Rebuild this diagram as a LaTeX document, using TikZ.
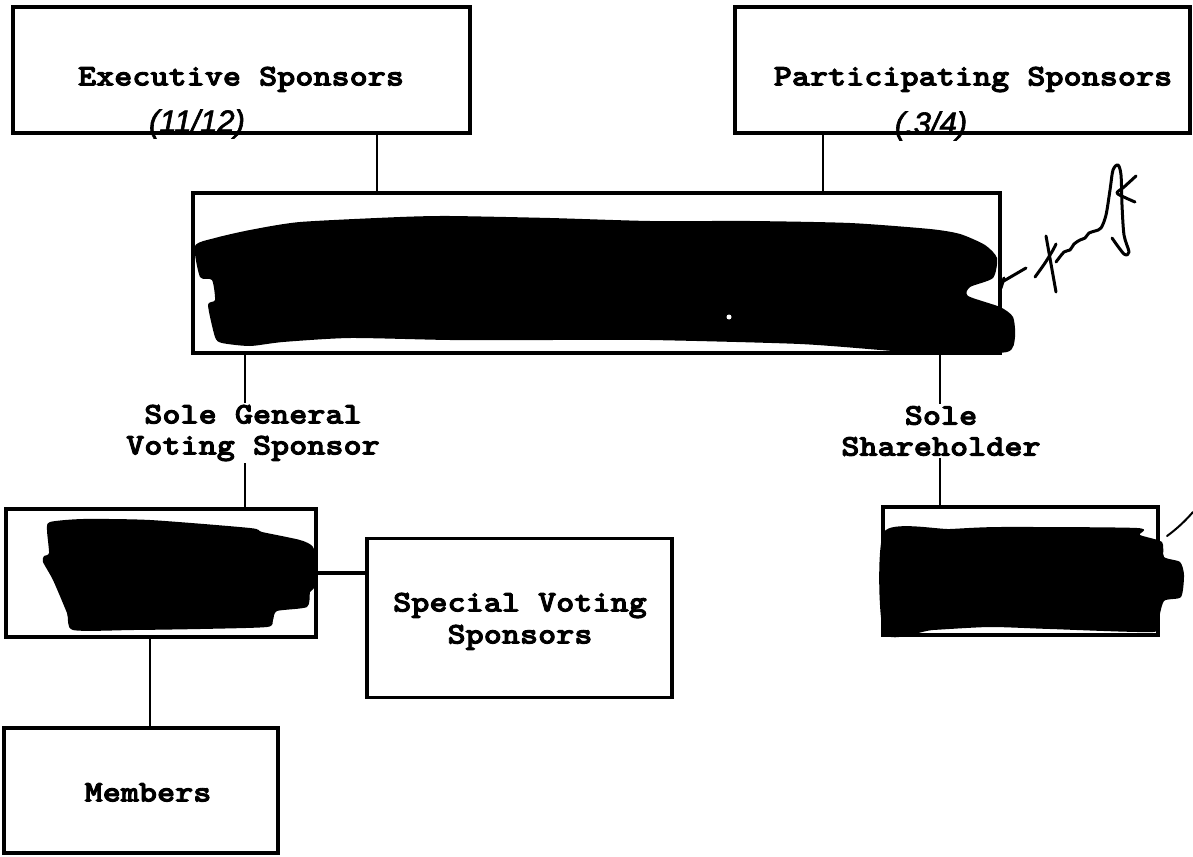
\documentclass[tikz,border=0pt]{standalone}
\usepackage{fontspec}
\newfontfamily\cour[FakeStretch=1.15,FakeBold=3]{lmmonolt10-bold.otf}
\newfontfamily\handfont[FakeBold=2]{Liberation Sans}
\begin{document}
\begin{tikzpicture}[x=1pt,y=-1pt,
  box/.style={draw=black,line width=3.5pt,rectangle,inner sep=0pt},
  txt/.style={font=\cour\fontsize{30}{32}\selectfont,inner sep=0pt,align=center},
  lbl/.style={font=\cour\fontsize{30}{31}\selectfont,inner sep=2pt,align=center,fill=white},
  hand/.style={font=\handfont\itshape\fontsize{31}{32}\selectfont,inner sep=0pt},
  conn/.style={draw=black,line width=2.8pt},
  blob/.style={fill=black},
  pen/.style={draw=black,line width=3pt,line cap=round,line join=round}]
\useasboundingbox (0,0) rectangle (1193,856);
\fill[white] (0,0) rectangle (1193,856);

% boxes
\node[box,minimum width=457pt,minimum height=126pt] (exec) at (241.5,70) {};
\node[box,minimum width=455pt,minimum height=126pt] (part) at (962.5,70) {};
\node[box,minimum width=807pt,minimum height=160pt] (cent) at (596.5,273) {};
\node[box,minimum width=310pt,minimum height=128pt] (lb) at (161,573) {};
\node[box,minimum width=305pt,minimum height=159pt] (svs) at (519.5,618) {};
\node[box,minimum width=275pt,minimum height=128pt] (rb) at (1020.5,571) {};
\node[box,minimum width=274pt,minimum height=125pt] (mem) at (141,790.5) {};

% texts
\node[txt,anchor=base] (exect) at (241,85.5) {Executive Sponsors};
\node[hand] (execn) at (197,124) {(11/12)};
\node[txt,anchor=base] (partt) at (973,85.5) {Participating Sponsors};
\node[hand] (partn) at (931,126) {(.3/4)};
\node[txt,anchor=base] (svt1) at (520,611.5) {Special Voting};
\node[txt,anchor=base] (svt2) at (520,643.5) {Sponsors};
\node[txt,anchor=base] (memt) at (148,801.5) {Members};
\node[lbl] (gv) at (253,433) {Sole General\\Voting Sponsor};
\node[lbl] (sh) at (941,431) {Sole\\Shareholder};

% x positions of connectors
\coordinate (xe) at (377,0);
\coordinate (xp) at (823,0);
\coordinate (xl) at (245,0);
\coordinate (xr) at (940,0);
\coordinate (xm) at (150,0);

\draw[conn] (exec.south -| xe) -- (cent.north -| xe);
\draw[conn] (part.south -| xp) -- (cent.north -| xp);
\draw[conn] (cent.south -| xl) -- (gv.north -| xl);
\draw[conn] (gv.south -| xl) -- (lb.north -| xl);
\draw[conn] (cent.south -| xr) -- (sh.north -| xr);
\draw[conn] (sh.south -| xr) -- (rb.north -| xr);
\draw[conn] (lb.south -| xm) -- (mem.north -| xm);
\draw[conn,line width=4pt] (lb.east) -- (lb.east -| svs.west);

% redactions
\fill[blob] plot[smooth cycle,tension=0.4] coordinates {
 (195,246) (215,238) (250,230) (300,222) (400,217) (450,216) (550,218)
 (650,221) (750,221) (850,223) (930,229) (960,234) (985,245) (997,258)
 (993,278) (970,287) (968,296) (1000,307) (1013,317) (1015,337) (1007,352)
 (943,354) (893,351) (800,344) (650,340) (550,340) (450,340) (350,338)
 (283,342) (250,346) (222,343) (215,337) (208,305) (215,300) (212,280) (200,277)};
\fill[white] (729,317) circle (2.5pt);

\fill[blob] plot[smooth cycle,tension=0.4] coordinates {
 (47,530) (50,522) (83,519) (150,520) (250,528) (262,532) (300,540)
 (313,547) (317,567) (315,587) (310,592) (307,607) (277,611) (273,620)
 (267,627) (200,629) (133,630) (73,630) (67,613) (53,580) (43,562) (44,556) (49,553)};

\fill[blob] plot[smooth cycle,tension=0.4] coordinates {
 (884,532) (950,529) (1000,527) (1137,528) (1140,535) (1162,542) (1164,557)
 (1180,562) (1184,575) (1181,597) (1164,601) (1158,622) (1153,632)
 (1050,629) (990,627) (933,630) (884,633)};

% handwritten signature
\draw[pen] (1001,288) -- (1004,278);
\draw[pen] (1002,282) -- (1026,268);
\draw[pen] plot[smooth] coordinates {(1035,277) (1045,263) (1053,250) (1056,244)};
\draw[pen] (1046,236) -- (1056,292);
\draw[pen] plot[smooth] coordinates {(1056,262) (1064,252) (1070,250) (1074,244)
 (1080,240) (1085,238) (1089,233) (1095,231) (1101,228) (1106,215) (1110,190)
 (1113,170) (1118,165) (1121,175) (1122,205) (1124,235) (1129,252) (1124,254) (1112,238)};
\draw[pen] plot[smooth] coordinates {(1136,176) (1124,187) (1117,193) (1126,198) (1135,202)};
\draw[pen,line width=2pt] (1167,536) .. controls (1178,528) and (1186,520) .. (1193,512);
\end{tikzpicture}
\end{document}
